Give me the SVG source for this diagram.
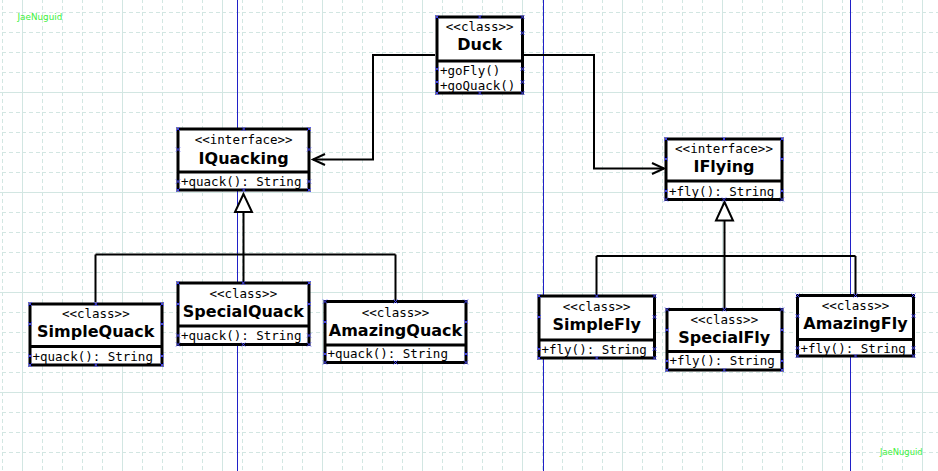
<svg xmlns="http://www.w3.org/2000/svg" xmlns:xlink="http://www.w3.org/1999/xlink" width="938" height="471" viewBox="0 0 938 471">
<style>
.gd{stroke:#d2e6e2;stroke-width:1;stroke-dasharray:4 3;fill:none}
.gs{stroke:#d2e6e2;stroke-width:1;fill:none}
.guide{stroke:#2020c8;stroke-width:1;fill:none}
.box{fill:#fff;stroke:#000;stroke-width:3}
.div{stroke:#000;stroke-width:3;fill:none}
.st{font-family:"DejaVu Sans Mono",monospace;font-size:12.5px;fill:#000;text-anchor:middle}
.nm{font-family:"DejaVu Sans",sans-serif;font-weight:bold;font-size:16px;fill:#000;text-anchor:middle}
.mt{font-family:"DejaVu Sans Mono",monospace;font-size:12.5px;fill:#000}
.wm{font-family:"DejaVu Sans",sans-serif;fill:#3cf03c}
.cn{stroke:#000;stroke-width:2;fill:none}
.tri{stroke:#000;stroke-width:2;fill:#fff}
.hd{stroke:#4a4aff;stroke-width:0.9;fill:none}
</style>
<defs>
<path id="h" class="hd" d="M-2,-2 L2,2 M-2,2 L2,-2"/>
<pattern id="gdx" width="20" height="20" patternUnits="userSpaceOnUse" x="2" y="12">
<line x1="0.5" y1="0" x2="0.5" y2="20" class="gd"/>
<line x1="0" y1="0.5" x2="20" y2="0.5" class="gd"/>
</pattern>
</defs>
<rect width="938" height="471" fill="#fff"/>
<g id="grid">
<rect width="938" height="471" fill="url(#gdx)"/>
<path class="gs" d="M22.5,0V471M122.5,0V471M222.5,0V471M322.5,0V471M422.5,0V471M522.5,0V471M622.5,0V471M722.5,0V471M822.5,0V471M922.5,0V471M0,92.5H938M0,192.5H938M0,292.5H938M0,392.5H938"/>
<path class="guide" d="M237.5,0V471M543.5,0V471M850.5,0V471"/>
</g>
<text class="wm" x="17.5" y="19.5" font-size="8.8">JaeNuguid</text>
<text class="wm" x="880" y="455" font-size="8.4">JaeNuguid</text>
<g id="connectors">
<path class="cn" d="M435,55H373V159.5H313"/>
<path class="cn" d="M325,154L313,159.5L325,165"/>
<path class="cn" d="M524,55H594V168.5H664"/>
<path class="cn" d="M652,163L664,168.5L652,174"/>
<path class="cn" d="M243.5,212V254.5M95.5,254.5H395.5M95.5,254.5V302M243.5,254.5V282M395.5,254.5V300"/>
<path class="tri" d="M243.5,194L235,212L252,212Z"/>
<path class="cn" d="M724.5,220.5V256M596.5,256H855.5M596.5,256V295M724.5,256V308M855.5,256V294"/>
<path class="tri" d="M724.5,202L716,220.5L733,220.5Z"/>
</g>
<g id="Duck">
<rect class="box" x="437" y="17" width="85.5" height="76"/>
<line class="div" x1="437" y1="61" x2="522.5" y2="61"/>
<text class="st" x="479.7" y="30.5">&lt;&lt;class&gt;&gt;</text>
<text class="nm" x="479.7" y="50">Duck</text>
<text class="mt" x="440" y="74.5">+goFly()</text>
<text class="mt" x="440" y="89.5">+goQuack()</text>
<use xlink:href="#h" x="437" y="17"/><use xlink:href="#h" x="479.7" y="17"/><use xlink:href="#h" x="522.5" y="17"/>
<use xlink:href="#h" x="522.5" y="33"/>
<use xlink:href="#h" x="437" y="69"/><use xlink:href="#h" x="522.5" y="69"/>
<use xlink:href="#h" x="437" y="82"/><use xlink:href="#h" x="522.5" y="82"/>
<use xlink:href="#h" x="437" y="93"/><use xlink:href="#h" x="479.7" y="93"/><use xlink:href="#h" x="522.5" y="93"/>
</g>
<g id="IQuacking">
<rect class="box" x="178" y="129" width="131" height="61"/>
<line class="div" x1="178" y1="172" x2="309" y2="172"/>
<text class="st" x="243.7" y="144">&lt;&lt;interface&gt;&gt;</text>
<text class="nm" x="243.7" y="163.5">IQuacking</text>
<text class="mt" x="181" y="186">+quack(): String</text>
<use xlink:href="#h" x="178" y="129"/><use xlink:href="#h" x="243.7" y="129"/><use xlink:href="#h" x="309" y="129"/>
<use xlink:href="#h" x="178" y="149.5"/><use xlink:href="#h" x="309" y="149.5"/>
<use xlink:href="#h" x="178" y="181.5"/><use xlink:href="#h" x="309" y="181.5"/>
<use xlink:href="#h" x="178" y="190"/><use xlink:href="#h" x="243.7" y="190"/><use xlink:href="#h" x="309" y="190"/>
</g>
<g id="IFlying">
<rect class="box" x="666" y="139" width="116" height="60.5"/>
<line class="div" x1="666" y1="181" x2="782" y2="181"/>
<text class="st" x="724" y="153">&lt;&lt;interface&gt;&gt;</text>
<text class="nm" x="724" y="172">IFlying</text>
<text class="mt" x="669" y="195.5">+fly(): String</text>
<use xlink:href="#h" x="666" y="139"/><use xlink:href="#h" x="724" y="139"/><use xlink:href="#h" x="782" y="139"/>
<use xlink:href="#h" x="666" y="159"/><use xlink:href="#h" x="782" y="159"/>
<use xlink:href="#h" x="666" y="191"/><use xlink:href="#h" x="782" y="191"/>
<use xlink:href="#h" x="666" y="199.5"/><use xlink:href="#h" x="724" y="199.5"/><use xlink:href="#h" x="782" y="199.5"/>
</g>
<g id="SimpleQuack">
<rect class="box" x="30" y="304" width="132" height="61"/>
<line class="div" x1="30" y1="346.5" x2="162" y2="346.5"/>
<text class="st" x="95.8" y="317.5">&lt;&lt;class&gt;&gt;</text>
<text class="nm" x="95.8" y="336.5">SimpleQuack</text>
<text class="mt" x="32.5" y="360.5">+quack(): String</text>
<use xlink:href="#h" x="30" y="304"/><use xlink:href="#h" x="95.8" y="304"/><use xlink:href="#h" x="162" y="304"/>
<use xlink:href="#h" x="30" y="324"/><use xlink:href="#h" x="162" y="324"/>
<use xlink:href="#h" x="30" y="356"/><use xlink:href="#h" x="162" y="356"/>
<use xlink:href="#h" x="30" y="365"/><use xlink:href="#h" x="95.8" y="365"/><use xlink:href="#h" x="162" y="365"/>
</g>
<g id="SpecialQuack">
<rect class="box" x="178" y="283" width="131" height="61.5"/>
<line class="div" x1="178" y1="326" x2="309" y2="326"/>
<text class="st" x="243.3" y="298">&lt;&lt;class&gt;&gt;</text>
<text class="nm" x="243.3" y="317">SpecialQuack</text>
<text class="mt" x="181" y="340">+quack(): String</text>
<use xlink:href="#h" x="178" y="283"/><use xlink:href="#h" x="243.3" y="283"/><use xlink:href="#h" x="309" y="283"/>
<use xlink:href="#h" x="178" y="304"/><use xlink:href="#h" x="309" y="304"/>
<use xlink:href="#h" x="178" y="335.5"/><use xlink:href="#h" x="309" y="335.5"/>
<use xlink:href="#h" x="178" y="344.5"/><use xlink:href="#h" x="243.3" y="344.5"/><use xlink:href="#h" x="309" y="344.5"/>
</g>
<g id="AmazingQuack">
<rect class="box" x="325" y="301.5" width="141" height="61"/>
<line class="div" x1="325" y1="345" x2="466" y2="345"/>
<text class="st" x="395.5" y="316.5">&lt;&lt;class&gt;&gt;</text>
<text class="nm" x="395.5" y="335.5">AmazingQuack</text>
<text class="mt" x="327.5" y="357.5">+quack(): String</text>
<use xlink:href="#h" x="325" y="301.5"/><use xlink:href="#h" x="395.5" y="301.5"/><use xlink:href="#h" x="466" y="301.5"/>
<use xlink:href="#h" x="325" y="322"/><use xlink:href="#h" x="466" y="322"/>
<use xlink:href="#h" x="325" y="354"/><use xlink:href="#h" x="466" y="354"/>
<use xlink:href="#h" x="325" y="362.5"/><use xlink:href="#h" x="395.5" y="362.5"/><use xlink:href="#h" x="466" y="362.5"/>
</g>
<g id="SimpleFly">
<rect class="box" x="539" y="296" width="115.5" height="62"/>
<line class="div" x1="539" y1="340" x2="654.5" y2="340"/>
<text class="st" x="596.7" y="310.5">&lt;&lt;class&gt;&gt;</text>
<text class="nm" x="596.7" y="330">SimpleFly</text>
<text class="mt" x="541.5" y="353.5">+fly(): String</text>
<use xlink:href="#h" x="539" y="296"/><use xlink:href="#h" x="596.7" y="296"/><use xlink:href="#h" x="654.5" y="296"/>
<use xlink:href="#h" x="539" y="317"/><use xlink:href="#h" x="654.5" y="317"/>
<use xlink:href="#h" x="539" y="349"/><use xlink:href="#h" x="654.5" y="349"/>
<use xlink:href="#h" x="539" y="358"/><use xlink:href="#h" x="596.7" y="358"/><use xlink:href="#h" x="654.5" y="358"/>
</g>
<g id="SpecialFly">
<rect class="box" x="667" y="309.5" width="115" height="60.5"/>
<line class="div" x1="667" y1="351.5" x2="782" y2="351.5"/>
<text class="st" x="724.3" y="324">&lt;&lt;class&gt;&gt;</text>
<text class="nm" x="724.3" y="343">SpecialFly</text>
<text class="mt" x="669.5" y="365">+fly(): String</text>
<use xlink:href="#h" x="667" y="309.5"/><use xlink:href="#h" x="724.3" y="309.5"/><use xlink:href="#h" x="782" y="309.5"/>
<use xlink:href="#h" x="667" y="330"/><use xlink:href="#h" x="782" y="330"/>
<use xlink:href="#h" x="667" y="361"/><use xlink:href="#h" x="782" y="361"/>
<use xlink:href="#h" x="667" y="370"/><use xlink:href="#h" x="724.3" y="370"/><use xlink:href="#h" x="782" y="370"/>
</g>
<g id="AmazingFly">
<rect class="box" x="797.5" y="295.5" width="116" height="60.5"/>
<line class="div" x1="797.5" y1="339.5" x2="913.5" y2="339.5"/>
<text class="st" x="855.5" y="310">&lt;&lt;class&gt;&gt;</text>
<text class="nm" x="855.5" y="329">AmazingFly</text>
<text class="mt" x="800.5" y="352.5">+fly(): String</text>
<use xlink:href="#h" x="797.5" y="295.5"/><use xlink:href="#h" x="855.5" y="295.5"/><use xlink:href="#h" x="913.5" y="295.5"/>
<use xlink:href="#h" x="797.5" y="316"/><use xlink:href="#h" x="913.5" y="316"/>
<use xlink:href="#h" x="797.5" y="348"/><use xlink:href="#h" x="913.5" y="348"/>
<use xlink:href="#h" x="797.5" y="356"/><use xlink:href="#h" x="855.5" y="356"/><use xlink:href="#h" x="913.5" y="356"/>
</g>
</svg>
